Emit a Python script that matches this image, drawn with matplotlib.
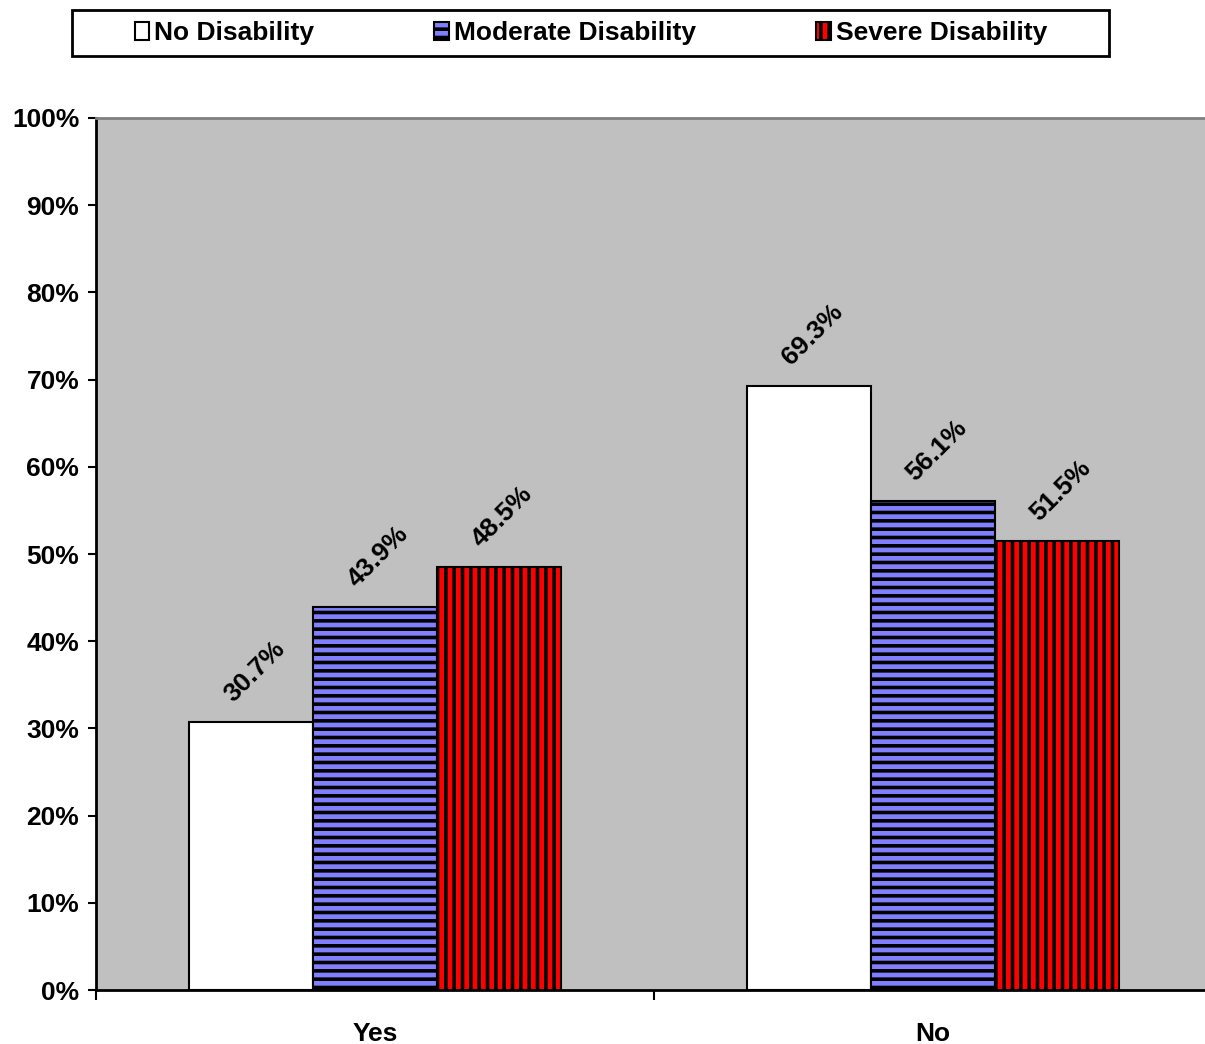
import numpy as np
import matplotlib
matplotlib.use("Agg")
import matplotlib.pyplot as plt
from matplotlib.patches import Rectangle

plt.rcParams['font.family'] = ['Liberation Sans', 'DejaVu Sans']
plt.rcParams['font.weight'] = 'bold'
plt.rcParams['hatch.linewidth'] = 2.6

categories = ["Yes", "No"]
series = ["No Disability", "Moderate Disability", "Severe Disability"]
no_dis   = [30.7, 69.3]
moderate = [43.9, 56.1]
severe   = [48.5, 51.5]
y_ticks  = [0, 10, 20, 30, 40, 50, 60, 70, 80, 90, 100]

values = [no_dis, moderate, severe]
colors = ["white", "#8080FF", "#FF0000"]
hatches = [None, "--", "||"]
FS = 19

fig = plt.figure(figsize=(12.05, 10.44), dpi=100)
ax = fig.add_axes([96 / 1205, 54 / 1044, 1116 / 1205, 872 / 1044])
ax.set_facecolor("#C0C0C0")

width = 0.222
centers = np.arange(len(categories)) + 0.5
handles = []
for i, (vals, col, h) in enumerate(zip(values, colors, hatches)):
    xs = centers + (i - 1) * width
    b = ax.bar(xs, vals, width, color=col, edgecolor="black", linewidth=1.5,
               hatch=h, label=series[i], zorder=2)
    handles.append(b)
    for x, v in zip(xs, vals):
        ax.text(x + 0.006, v + 1.8, f"{v:.1f}%", rotation=45, ha="center", va="bottom",
                fontsize=FS, fontweight="bold", zorder=3)

ax.set_xlim(0, 2)
ax.set_ylim(0, 100)
ax.set_yticks(y_ticks)
ax.set_yticklabels([f"{t}%" for t in y_ticks], fontsize=FS, fontweight="bold")
ax.tick_params(axis="y", length=6, width=1.5, pad=6)

ax.set_xticks([0, 1, 2])
ax.set_xticklabels(["", "", ""])
ax.tick_params(axis="x", which="major", length=7, width=1.5, direction="out")
ax.set_xticks(centers, minor=True)
ax.set_xticklabels(categories, minor=True, fontsize=FS, fontweight="bold")
ax.tick_params(axis="x", which="minor", length=0, pad=23)

ax.spines["left"].set_linewidth(2)
ax.spines["bottom"].set_linewidth(2)
ax.spines["top"].set_color("#808080")
ax.spines["top"].set_linewidth(2)
ax.spines["right"].set_visible(False)

# legend box
fig.patches.append(Rectangle((72 / 1205, 1 - 56 / 1044), 1037 / 1205, 46 / 1044,
                             transform=fig.transFigure, facecolor="white",
                             edgecolor="black", linewidth=2))
fig.legend(handles=handles, loc="center", bbox_to_anchor=(591 / 1205, 1 - 33 / 1044),
           ncol=3, frameon=False, handlelength=0.55, handleheight=0.65,
           handletextpad=0.2, columnspacing=4.55, prop={"weight": "bold", "size": FS})

fig.savefig("out.png", dpi=100)
